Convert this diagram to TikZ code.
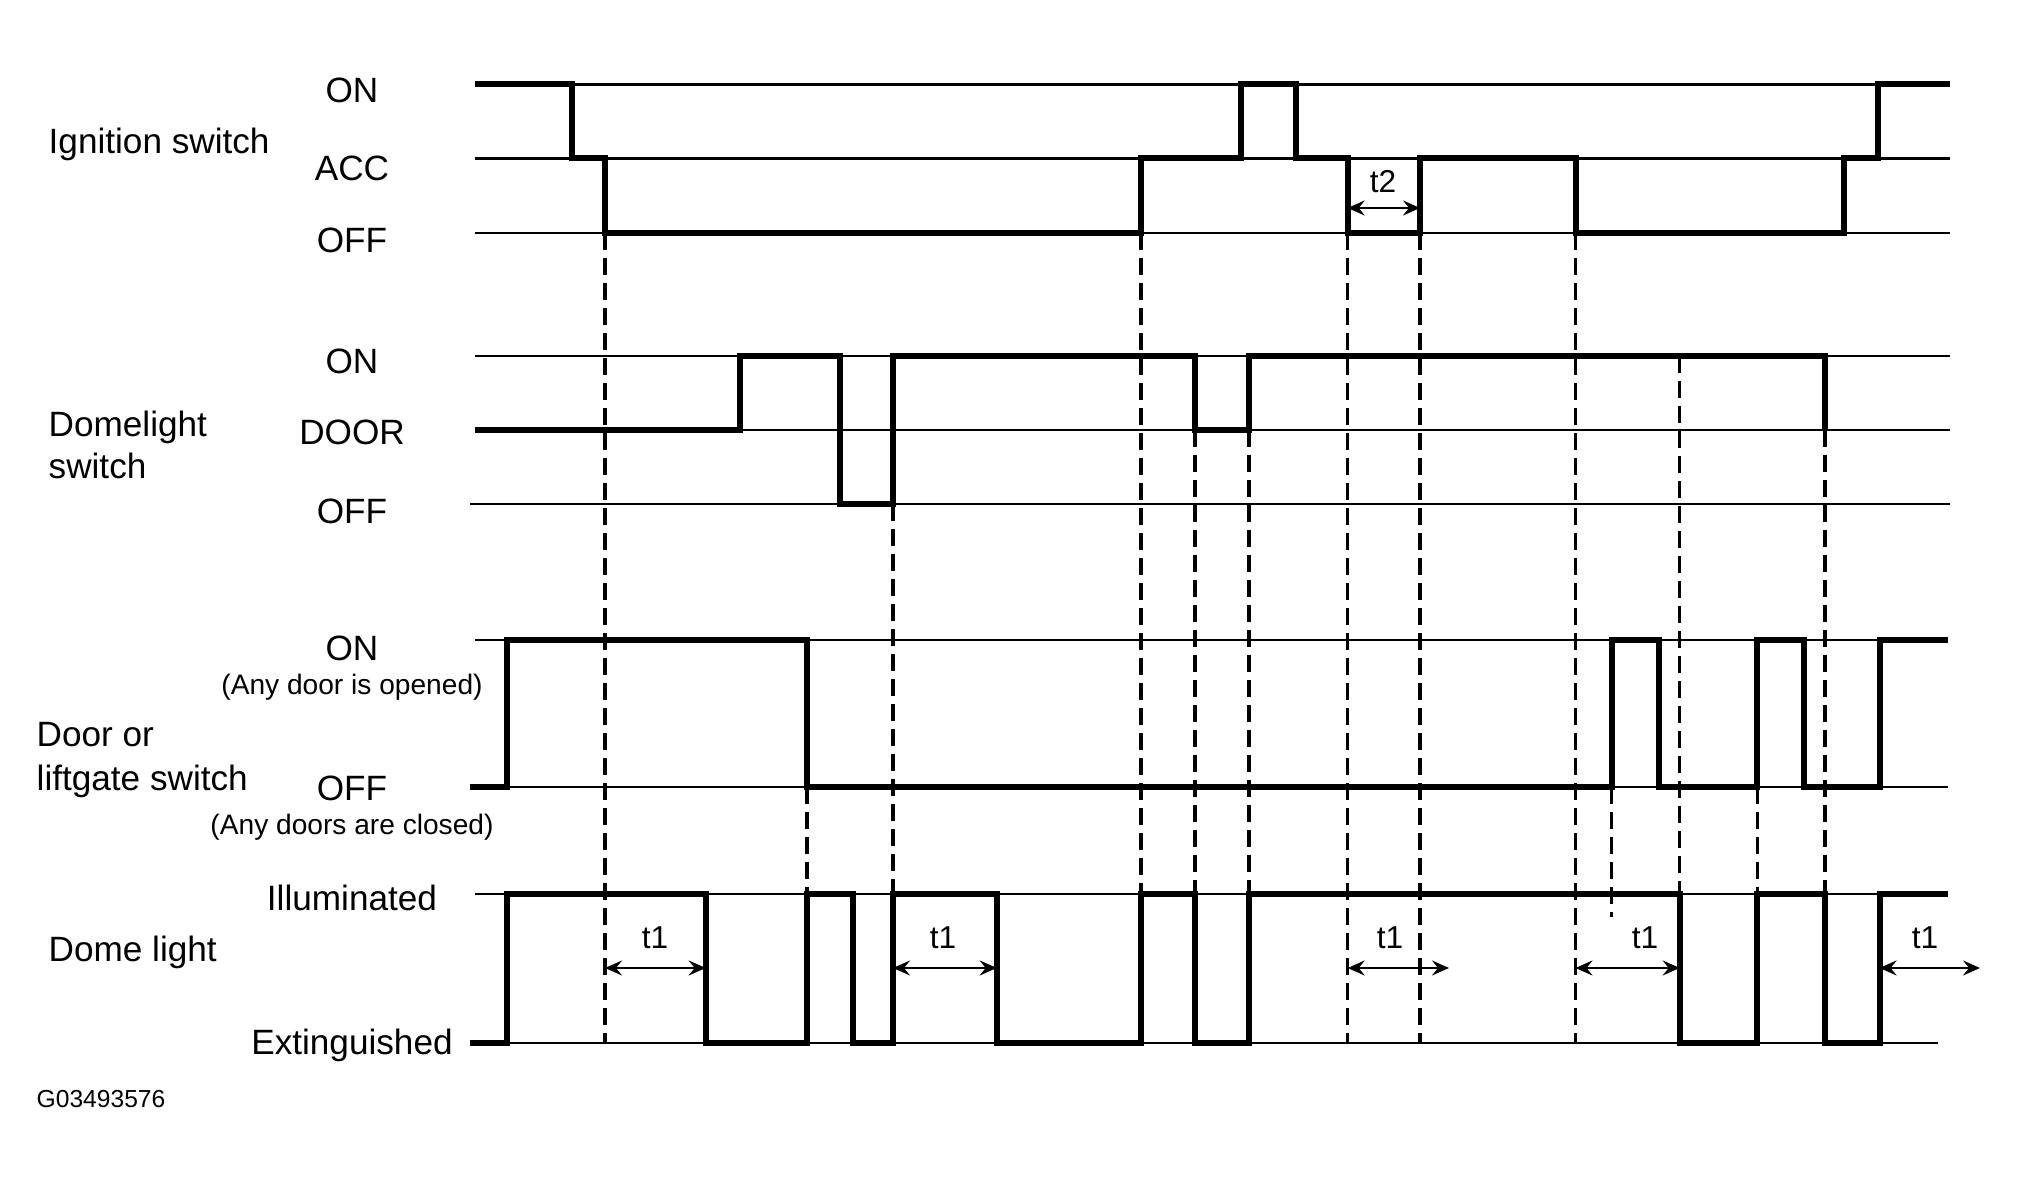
\documentclass[tikz,border=0pt]{standalone}
\usepackage{fontspec}
\setmainfont{Liberation Sans}
\usetikzlibrary{arrows.meta}
\tikzstyle{level} = [line width=0.8pt]
\tikzstyle{signal} = [line width=1.7pt, line join=miter]
\tikzstyle{guide} = [line width=1pt, dash pattern=on 0.17cm off 0.08cm]
\tikzstyle{span} = [line width=0.6pt, <->, >={Stealth[length=1.7mm,width=1.5mm,inset=0.6mm]}]
\tikzstyle{levelname} = [inner sep=0, anchor=base, font=\fontsize{10}{12}\selectfont]
\tikzstyle{rowname} = [levelname, anchor=base west]
\tikzstyle{note} = [inner sep=0, anchor=base, font=\fontsize{8}{10}\selectfont]
\tikzstyle{tlabel} = [inner sep=0, anchor=base, font=\fontsize{9}{11}\selectfont]

\begin{document}
\begin{tikzpicture}[x=0.01cm, y=-0.01cm]
    \useasboundingbox (0,0) rectangle (2017,1183);
    % Place nodes
    \node [rowname] (ign) at (48,154) {Ignition switch};
    \node [levelname] (ignON) at (352,103) {ON};
    \node [levelname] (ignACC) at (352,181) {ACC};
    \node [levelname] (ignOFF) at (352,253) {OFF};

    \node [rowname] (dome1) at (48,437) {Domelight};
    \node [rowname] (dome2) at (48,479) {switch};
    \node [levelname] (domeON) at (352,374) {ON};
    \node [levelname] (domeDOOR) at (352,445) {DOOR};
    \node [levelname] (domeOFF) at (352,524) {OFF};

    \node [rowname] (door1) at (36,747) {Door or};
    \node [rowname] (door2) at (36,791) {liftgate switch};
    \node [levelname] (doorON) at (352,661) {ON};
    \node [note] (doorONnote) at (352,695) {(Any door is opened)};
    \node [levelname] (doorOFF) at (352,801) {OFF};
    \node [note] (doorOFFnote) at (352,835) {(Any doors are closed)};

    \node [rowname] (lamp) at (48,962) {Dome light};
    \node [levelname] (lampILL) at (352,911) {Illuminated};
    \node [levelname] (lampEXT) at (352,1055) {Extinguished};

    \node [inner sep=0, anchor=base west, font=\fontsize{7}{8}\selectfont] (code) at (36,1108) {G03493576};

    % Level lines
    \foreach \ly in {84.5,158.4,233,356,430}
        \draw [level] (475,\ly) -- (1950,\ly);
    \draw [level] (470,504) -- (1950,504);
    \draw [level] (475,640) -- (1948,640);
    \draw [level] (470,787) -- (1948,787);
    \draw [level] (475,894) -- (1948,894);
    \draw [level] (470,1043) -- (1938,1043);

    % Guides
    \foreach \gx/\ga/\gb in {605/233/1043, 807/787/894, 893/504/894, 1141/233/894,
        1195/430/894, 1249/430/894, 1347.7/233/1043, 1420/233/1043, 1575.5/233/1043,
        1611.7/787/917, 1679.7/356/894, 1757.4/787/894, 1825/430/894}
        \draw [guide] (\gx,\ga) -- (\gx,\gb);

    % Signals
    \draw [signal] (475,84.5) -- (571.7,84.5) -- (571.7,158.4) -- (605,158.4) -- (605,233)
        -- (1141,233) -- (1141,158.4) -- (1241,158.4) -- (1241,84.5) -- (1295.7,84.5)
        -- (1295.7,158.4) -- (1347.7,158.4) -- (1347.7,233) -- (1420,233) -- (1420,158.4)
        -- (1575.5,158.4) -- (1575.5,233) -- (1844,233) -- (1844,158.4) -- (1877.8,158.4)
        -- (1877.8,84.5) -- (1950,84.5);
    \draw [signal] (475,430) -- (740,430) -- (740,356) -- (840,356) -- (840,504) -- (893,504)
        -- (893,356) -- (1195,356) -- (1195,430) -- (1249,430) -- (1249,356) -- (1825,356)
        -- (1825,430);
    \draw [signal] (470,787) -- (507,787) -- (507,640) -- (807,640) -- (807,787)
        -- (1611.7,787) -- (1611.7,640) -- (1658.7,640) -- (1658.7,787) -- (1757.4,787)
        -- (1757.4,640) -- (1804.4,640) -- (1804.4,787) -- (1879.6,787) -- (1879.6,640)
        -- (1948,640);
    \draw [signal] (470,1043) -- (507,1043) -- (507,894) -- (705.7,894) -- (705.7,1043)
        -- (807,1043) -- (807,894) -- (853,894) -- (853,1043) -- (893,1043) -- (893,894)
        -- (996.7,894) -- (996.7,1043) -- (1141,1043) -- (1141,894) -- (1195,894)
        -- (1195,1043) -- (1249,1043) -- (1249,894) -- (1679.7,894) -- (1679.7,1043)
        -- (1757.4,1043) -- (1757.4,894) -- (1825,894) -- (1825,1043) -- (1879.6,1043)
        -- (1879.6,894) -- (1948,894);

    % Delays
    \coordinate (t2s) at (1347.7,208);
    \coordinate (t2e) at (1420,208);
    \draw [span] (t2s) -- (t2e);
    \node [tlabel] (t2) at (1383,193) {t2};
    \foreach \n/\sa/\sb/\lx in {1/605/705.7/655, 2/893/996.7/943, 3/1347.7/1449/1390,
        4/1575.5/1679.7/1645, 5/1879.6/1980/1925} {
        \coordinate (t1s\n) at (\sa,968);
        \coordinate (t1e\n) at (\sb,968);
        \draw [span] (t1s\n) -- (t1e\n);
        \node [tlabel] (t1l\n) at (\lx,949) {t1};
    }
\end{tikzpicture}
\end{document}
